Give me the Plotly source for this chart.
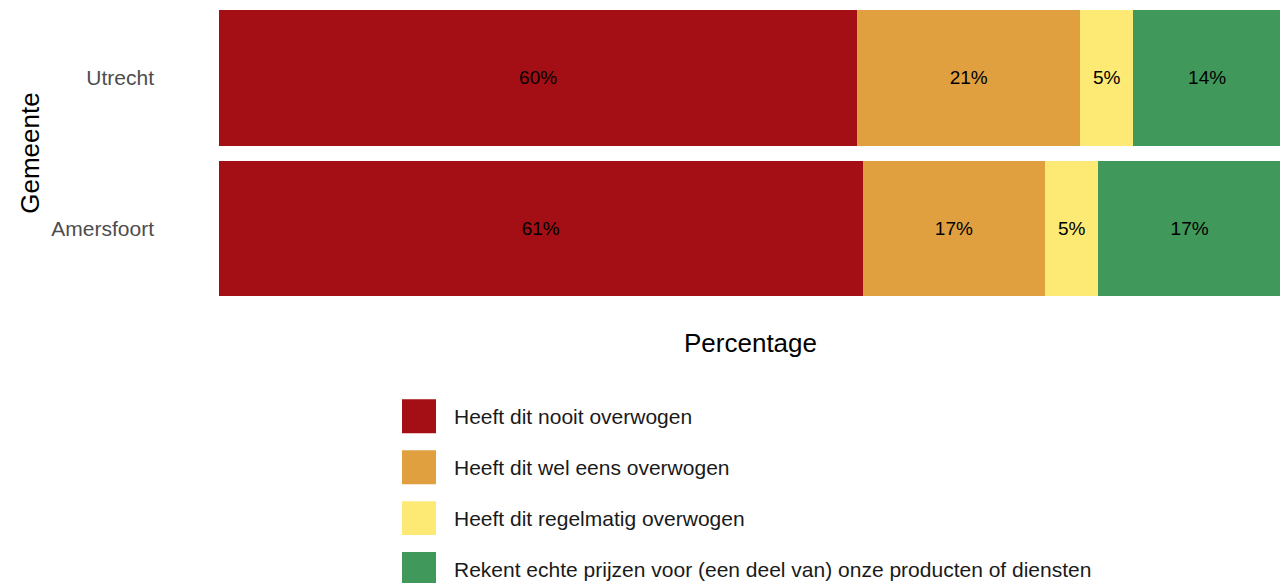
import plotly.graph_objects as go

gemeenten = ["Amersfoort", "Utrecht"]
categories = [
    "Heeft dit nooit overwogen",
    "Heeft dit wel eens overwogen",
    "Heeft dit regelmatig overwogen",
    "Rekent echte prijzen voor (een deel van) onze producten of diensten",
]
# percentages per category, ordered as gemeenten
values = {
    "Heeft dit nooit overwogen": [60.6, 60.1],
    "Heeft dit wel eens overwogen": [17.2, 21.0],
    "Heeft dit regelmatig overwogen": [5.0, 5.0],
    "Rekent echte prijzen voor (een deel van) onze producten of diensten": [17.2, 13.9],
}
colors = ["#A30F15", "#E0A040", "#FDEA74", "#41985B"]

FONT = "Liberation Sans, Arial, sans-serif"

# page body has an 8px default margin: work in figure pixel coords (reference - 8)
OFF = 8
W, H = 1288 - OFF, 583 - OFF
plot_left, plot_right = 219 - OFF, 1281 - OFF
plot_top, plot_bottom = 0, 304.5 - OFF
pw = plot_right - plot_left
ph = plot_bottom - plot_top
unit_px = 151.0
y_top = -0.5 + ph / unit_px


def px_x(px):
    return (px - OFF - plot_left) / pw


def px_y(py):
    return (plot_bottom - (py - OFF)) / ph


fig = go.Figure()
for cat, col in zip(categories, colors):
    v = values[cat]
    fig.add_trace(go.Bar(
        y=gemeenten, x=v, orientation="h", name=cat,
        marker=dict(color=col, line=dict(width=0)),
        text=[f"{x:.0f}%" for x in v],
        textposition="inside", insidetextanchor="middle",
        textfont=dict(color="black", size=19, family=FONT),
        width=0.9, showlegend=False,
    ))

shapes = []
annotations = []
for i, (cat, col) in enumerate(zip(categories, colors)):
    yc = 417 + i * 51
    shapes.append(dict(type="rect", xref="paper", yref="paper",
                       x0=px_x(402), x1=px_x(436),
                       y0=px_y(yc + 17), y1=px_y(yc - 17),
                       fillcolor=col, line=dict(width=0)))
    annotations.append(dict(text=cat, xref="paper", yref="paper",
                            x=px_x(452), y=px_y(yc),
                            xanchor="left", yanchor="middle", showarrow=False,
                            font=dict(size=21, color="#1a1a1a", family=FONT)))

annotations.append(dict(text="Percentage", xref="paper", yref="paper",
                        x=px_x(750), y=px_y(344), xanchor="center", yanchor="middle",
                        showarrow=False, font=dict(size=26, color="black", family=FONT)))
annotations.append(dict(text="Gemeente", xref="paper", yref="paper",
                        x=px_x(30), y=px_y(154), xanchor="center", yanchor="middle",
                        textangle=-90, showarrow=False,
                        font=dict(size=26, color="black", family=FONT)))

fig.update_layout(
    barmode="stack",
    width=W, height=H,
    margin=dict(l=plot_left, r=W - plot_right, t=plot_top, b=H - plot_bottom, pad=0),
    plot_bgcolor="white", paper_bgcolor="white",
    font=dict(family=FONT),
    shapes=shapes, annotations=annotations,
    uniformtext=dict(mode="show", minsize=10),
    xaxis=dict(range=[0, 100], showticklabels=False, showgrid=False, zeroline=False,
               ticks="", fixedrange=True),
    yaxis=dict(range=[-0.5, y_top], showgrid=False, zeroline=False, ticks="",
               tickfont=dict(size=21, color="#4d4d4d", family=FONT),
               ticklabelstandoff=64, categoryorder="array", categoryarray=gemeenten),
)

fig.write_html("out.html")
